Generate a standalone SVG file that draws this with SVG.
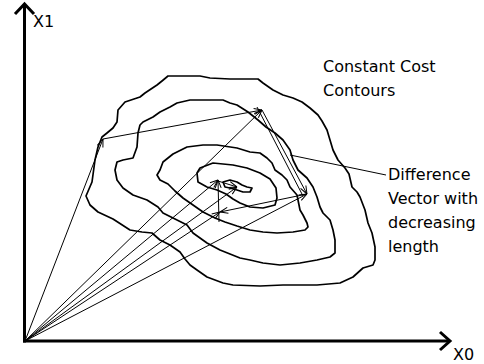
<svg xmlns="http://www.w3.org/2000/svg" width="484" height="364" viewBox="0 0 484 364">
<style>
.ax{stroke:#000;stroke-width:3;fill:none}
.ah{stroke:#000;stroke-width:3;fill:none;stroke-linejoin:miter}
.ct{stroke:#000;stroke-width:1.7;fill:none;stroke-linejoin:round}
.v{stroke:#000;stroke-width:1;fill:none}
.t{font-family:"DejaVu Sans",sans-serif;font-size:16px;fill:#000}
</style>
<defs>
<marker id="tip" markerUnits="userSpaceOnUse" markerWidth="12" markerHeight="12" refX="0" refY="0" viewBox="-10 -6 12 12" orient="auto" overflow="visible">
<path d="M0,0 L-8,-3 M0,0 L-8,3" stroke="#000" stroke-width="1" fill="none"/>
</marker>
</defs>
<rect width="484" height="364" fill="#fff"/>
<g id="axes">
<line class="ax" x1="24.5" y1="342.5" x2="24.5" y2="5"/>
<line class="ax" x1="23" y1="341" x2="449" y2="341"/>
<polyline class="ah" points="15,14 24.5,4 34,14"/>
<polyline class="ah" points="440,332 450,341 440,350"/>
</g>
<g id="contours">
<path id="contour1" class="ct" d="M168,76 L200,76 L210,78 L230,79 L258,79 L263,83 L273,90 L283,95 L293,98 L302,102 L310,108 L318,115 L322,121 L327,130 L330,140 L333,150 L338,160 L345,168 L349,174 L352,187 L357,192 L360,197 L365,210 L368,223 L372,233 L375,247 L375,260 L373,265 L363,268 L353,277 L340,283 L317,285 L283,285 L260,286 L233,285 L223,283 L207,277 L197,270 L190,265 L185,259 L180,252 L170,245 L160,240 L152,233 L142,232 L130,230 L113,219 L98,212 L90,205 L86,196 L92,182 L95,160 L98,147 L102,137 L107,133 L113,128 L117,122 L118,110 L125,102 L140,97 L145,93 L157,85 L162,81 Z"/>
<path id="contour2" class="ct" d="M170,107 L177,103 L190,100 L223,100 L230,103 L237,105 L248,112 L258,120 L266,127 L275,133 L283,140 L290,150 L293,160 L298,170 L307,178 L313,187 L317,197 L320,207 L323,213 L330,220 L333,230 L335,240 L335,253 L330,257 L317,260 L300,263 L280,265 L263,263 L250,260 L240,258 L230,254 L220,250 L207,243 L193,233 L187,225 L173,218 L163,213 L158,207 L147,200 L133,195 L123,188 L117,180 L115,170 L117,162 L123,160 L133,158 L137,147 L138,133 L140,125 L143,122 L153,117 L160,112 Z"/>
<path id="contour3" class="ct" d="M160,170 L163,162 L173,154 L187,147 L203,145 L217,145 L237,148 L250,152 L260,153 L267,158 L272,163 L275,170 L282,175 L287,180 L290,187 L297,195 L298,200 L300,210 L303,215 L307,223 L308,227 L305,230 L293,232 L277,233 L263,232 L250,230 L237,226 L225,222 L215,218 L203,212 L193,205 L183,198 L175,191 L168,184 L160,180 L157,175 Z"/>
<path id="contour4" class="ct" d="M197,173 L200,168 L213,163 L233,165 L247,168 L260,173 L270,179 L276,188 L277,198 L275,205 L263,208 L250,207 L240,203 L233,199 L226,194 L217,190 L207,187 L198,182 Z"/>
<path id="contour5" class="ct" d="M223,182 L230,180 L237,182 L242,185 L247,187 L252,188 L250,192 L243,192 L237,190 L230,188 L225,187 Z"/>
</g>
<g id="connectors">
<line class="v" x1="25" y1="341" x2="103" y2="139" marker-end="url(#tip)"/>
<line class="v" x1="25" y1="341" x2="262" y2="110" marker-end="url(#tip)"/>
<line class="v" x1="25" y1="341" x2="218" y2="180" marker-end="url(#tip)"/>
<line class="v" x1="25" y1="341" x2="237" y2="187" marker-end="url(#tip)"/>
<line class="v" x1="25" y1="341" x2="220" y2="212" marker-end="url(#tip)"/>
<line class="v" x1="25" y1="341" x2="307" y2="194" marker-end="url(#tip)"/>
<line class="v" x1="103" y1="139" x2="262" y2="110" marker-end="url(#tip)"/>
<line class="v" x1="262" y1="110" x2="307" y2="194" marker-end="url(#tip)"/>
<line class="v" x1="257" y1="107" x2="303" y2="196"/>
<line class="v" x1="307" y1="194" x2="220" y2="212" marker-end="url(#tip)"/>
<line class="v" x1="219" y1="222" x2="218" y2="180" marker-end="url(#tip)"/>
<line class="v" x1="218" y1="181" x2="237" y2="187" marker-end="url(#tip)"/>
<line id="leader" class="v" x1="290" y1="155" x2="386" y2="175"/>
</g>
<g id="labels">
<text class="t" x="33" y="27">X1</text>
<text class="t" x="453" y="360">X0</text>
<text class="t" x="323" y="72">Constant Cost</text>
<text class="t" x="323" y="96">Contours</text>
<text class="t" x="388" y="180">Difference</text>
<text class="t" x="388" y="204">Vector with</text>
<text class="t" x="388" y="228">decreasing</text>
<text class="t" x="388" y="252">length</text>
</g>
</svg>
